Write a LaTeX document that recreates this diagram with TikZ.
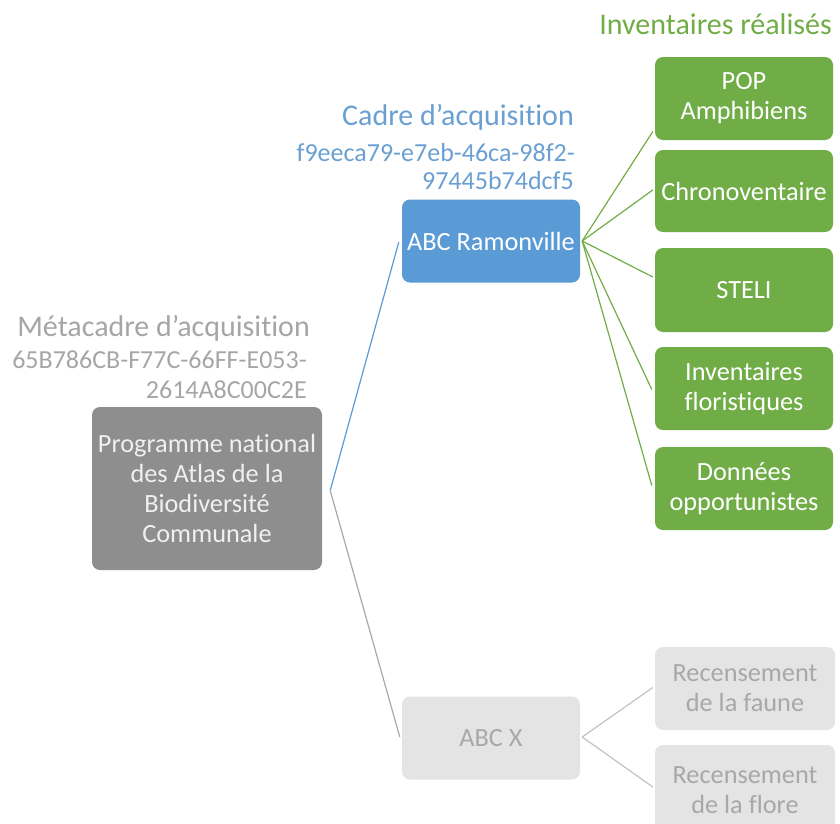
\documentclass[tikz,border=0pt]{standalone}
\usepackage{fontspec}
\setmainfont{Carlito}[Ligatures={NoCommon,NoContextual}]
\usetikzlibrary{calc}
\definecolor{cblue}{HTML}{5B9BD5}
\definecolor{cbluetext}{HTML}{6A9FD2}
\definecolor{cgreen}{HTML}{70AD47}
\definecolor{cgray}{HTML}{8E8E8E}
\definecolor{cgraytext}{HTML}{F0F0F0}
\definecolor{clabel}{HTML}{A6A6A6}
\definecolor{clight}{HTML}{E4E4E4}
\definecolor{clighttext}{HTML}{A8A8A8}
\definecolor{clightline}{HTML}{C2C2C2}
\definecolor{cgrayline}{HTML}{A8A8A8}
\begin{document}
\begin{tikzpicture}[x=1pt,y=-1pt,
  box/.style={rectangle, rounded corners=8pt, minimum width=178pt, minimum height=83pt,
    inner sep=2pt, align=center, font=\fontsize{26.3}{30}\selectfont, text=white},
  greenbox/.style={box, fill=cgreen},
  bluebox/.style={box, fill=cblue},
  mainbox/.style={box, fill=cgray, text=cgraytext, minimum width=230pt, minimum height=163pt},
  lightbox/.style={box, fill=clight, text=clighttext},
  title/.style={anchor=base east, inner sep=0pt, font=\fontsize{30}{34}\selectfont},
  idtext/.style={anchor=base east, inner sep=0pt, font=\fontsize{26}{30}\selectfont},
  link/.style={line width=1.2pt},
]
\useasboundingbox (0,0) rectangle (840,823);
\clip (0,0) rectangle (840,823);

% boxes
\node[mainbox] (main) at (207,488.5) {Programme national\\des Atlas de la\\Biodiversité\\Communale};
\node[bluebox] (ramon) at (491,241) {ABC Ramonville};
\node[lightbox] (abcx) at (491,738) {ABC X};

\node[greenbox] (pop) at (744,98.5) {POP\\Amphibiens};
\node[greenbox, minimum height=82pt] (chrono) at (744,191) {Chronoventaire};
\node[greenbox, minimum height=84pt] (steli) at (744,290) {STELI};
\node[greenbox] (flor) at (744,388.5) {Inventaires\\floristiques};
\node[greenbox] (opp) at (744,488.5) {Données\\opportunistes};

\node[lightbox, minimum width=180pt] (faune) at (745,688.5) {Recensement\\de la faune};
\node[lightbox, minimum width=180pt, minimum height=90pt] (flore) at (745,790) {Recensement\\de la flore};

% labels
\node[title, text=clabel] (metat) at (310,336) {Métacadre d’acquisition};
\node[idtext, text=clabel] (metai1) at (307,368) {65B786CB-F77C-66FF-E053-};
\node[idtext, text=clabel] (metai2) at (307,398) {2614A8C00C2E};

\node[title, text=cbluetext] (cadret) at (574,125) {Cadre d’acquisition};
\node[idtext, text=cbluetext] (cadrei1) at (575,161) {f9eeca79-e7eb-46ca-98f2-};
\node[idtext, text=cbluetext] (cadrei2) at (574,189) {97445b74dcf5};

\node[title, text=cgreen] (invt) at (832,34) {Inventaires réalisés};

% connectors
\coordinate (mhub) at ($(main.east)+(8,2)$);
\coordinate (rhub) at ($(ramon.east)+(2,0)$);
\coordinate (xhub) at ($(abcx.east)+(2,-1)$);

\draw[link, cblue] (mhub) -- ($(ramon.west)+(-3,1)$);
\draw[link, cgrayline] (mhub) -- ($(abcx.west)+(-2,-1)$);

\draw[link, cgreen] (rhub) -- ($(pop.west)+(-2,33)$);
\draw[link, cgreen] (rhub) -- ($(chrono.west)+(-2,-1)$);
\draw[link, cgreen] (rhub) -- ($(steli.west)+(-2,-13)$);
\draw[link, cgreen] (rhub) -- ($(flor.west)+(-3,1)$);
\draw[link, cgreen] (rhub) -- ($(opp.west)+(-3,-3)$);

\draw[link, clightline] (xhub) -- ($(faune.west)+(-2,-1)$);
\draw[link, clightline] (xhub) -- ($(flore.west)+(-2,-3)$);
\end{tikzpicture}
\end{document}
